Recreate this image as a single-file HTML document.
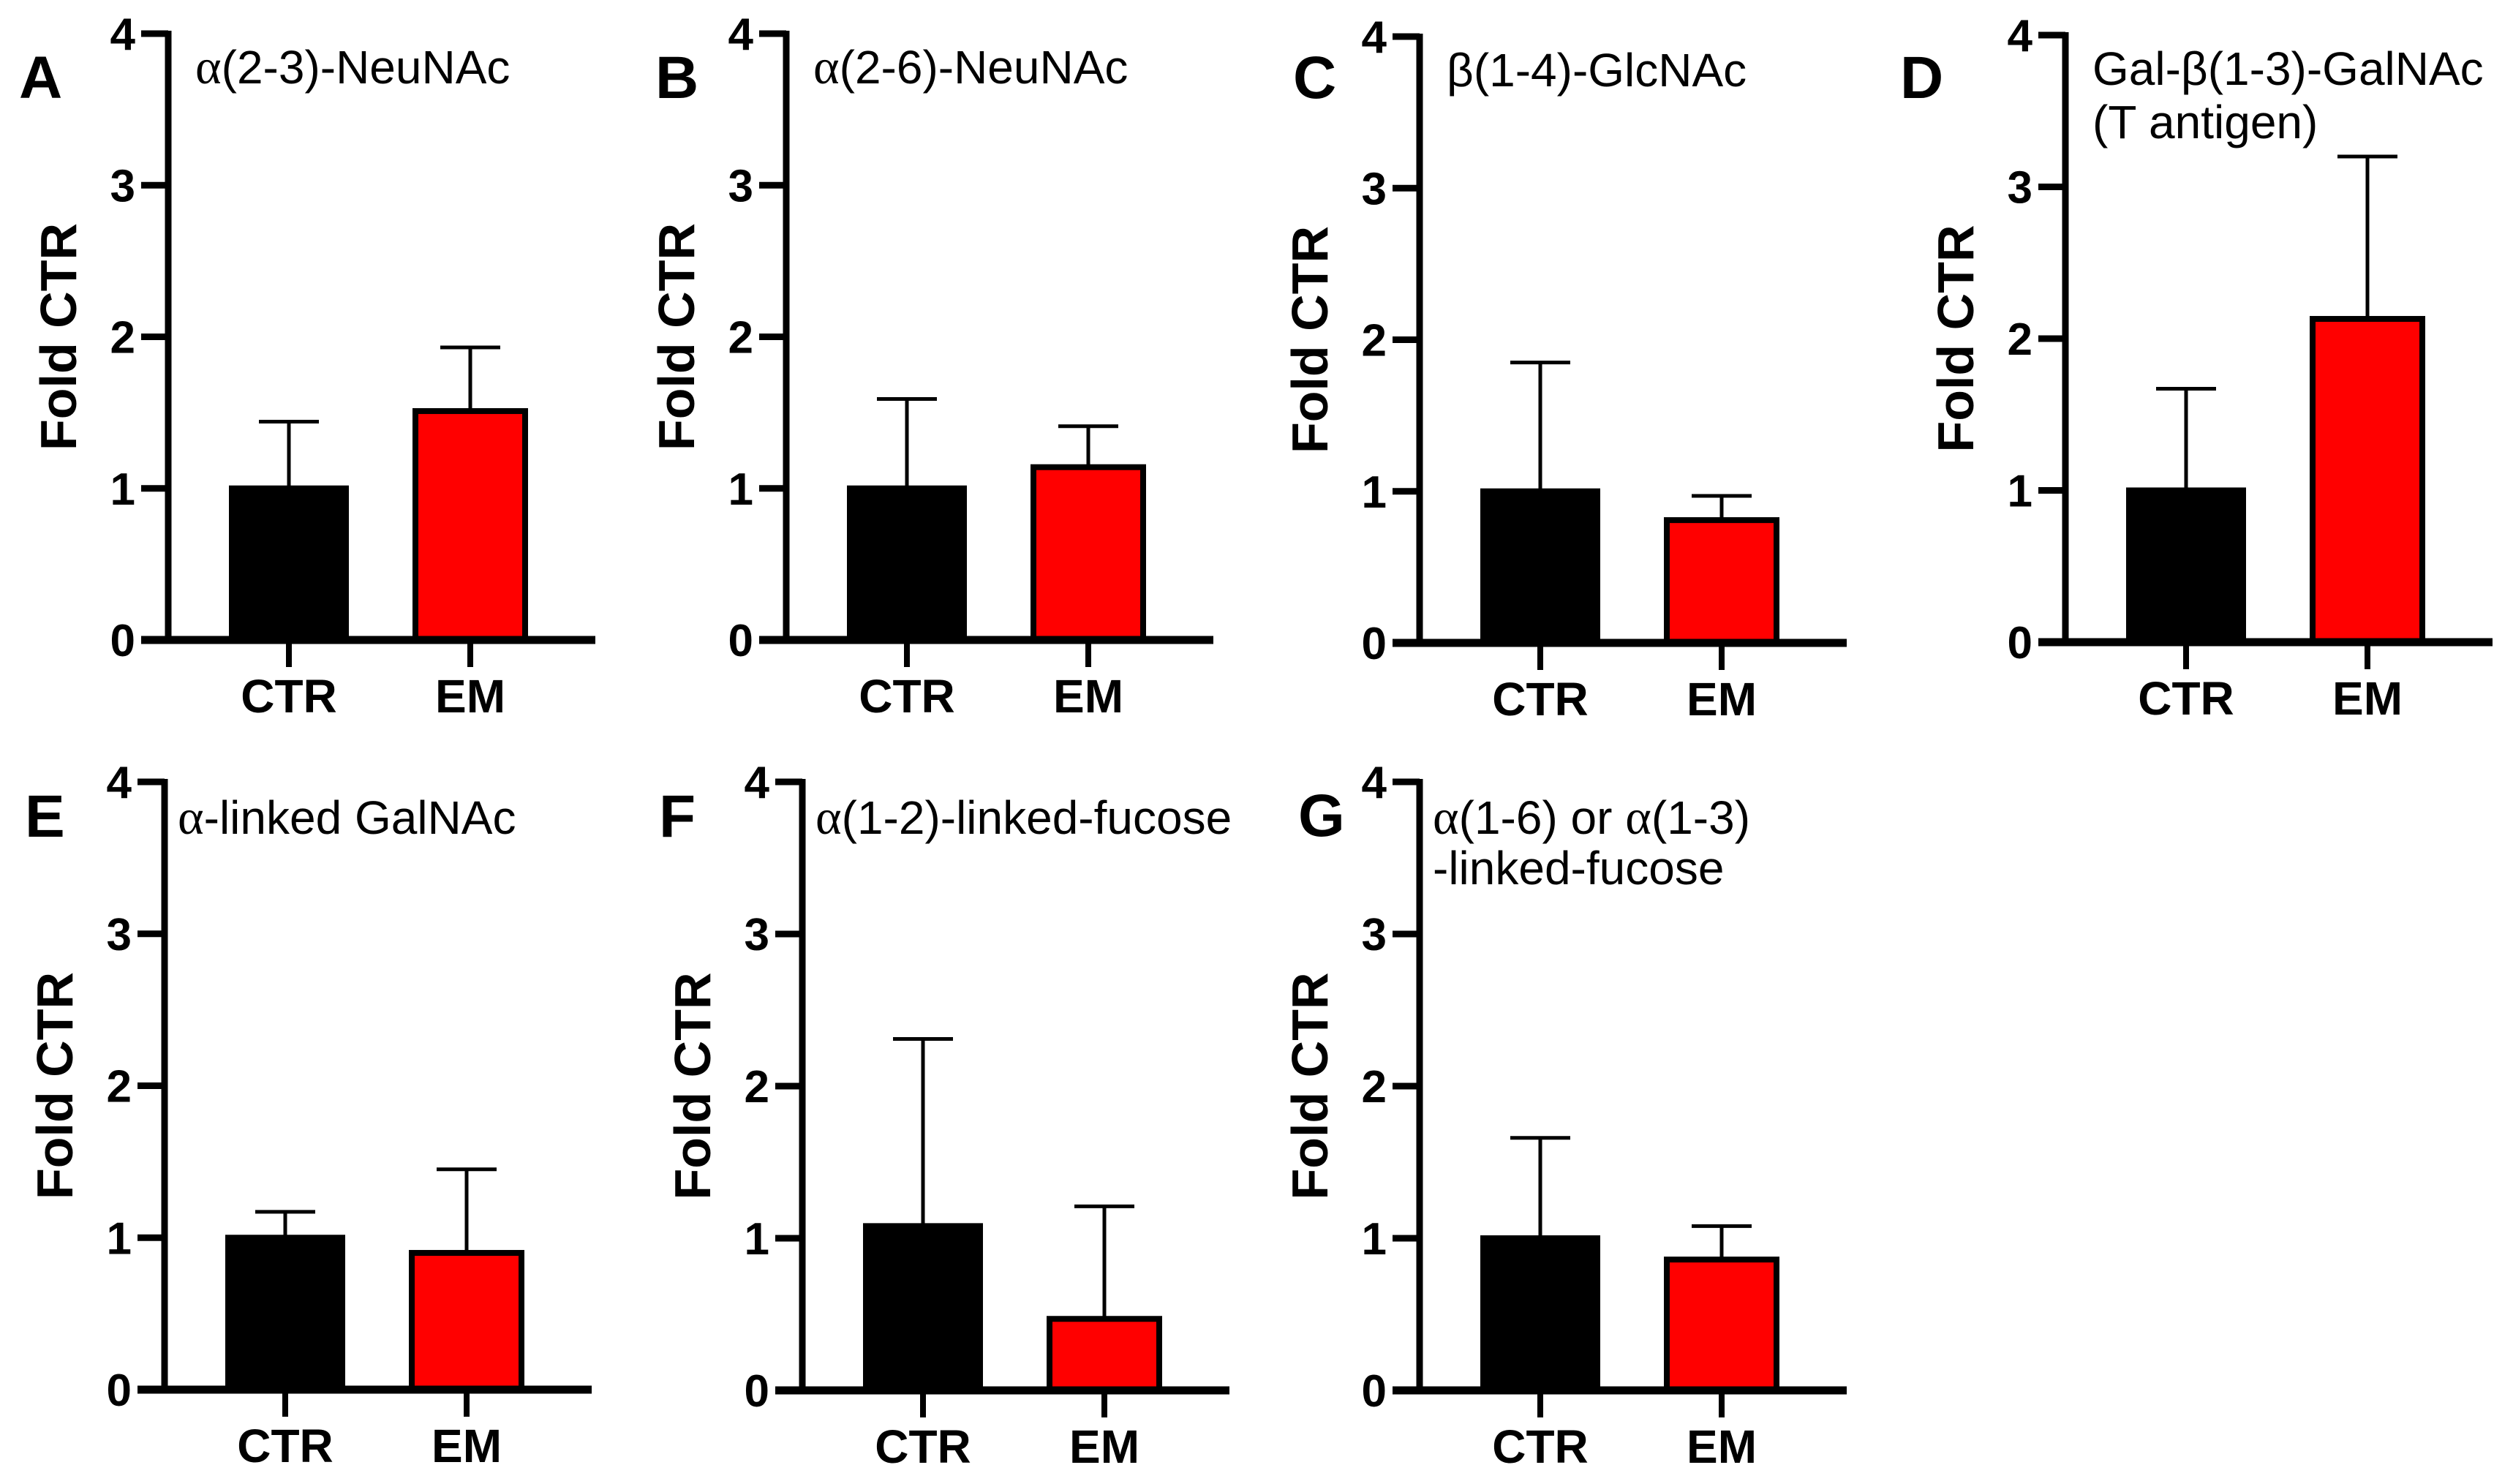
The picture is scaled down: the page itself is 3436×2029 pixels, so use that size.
<!DOCTYPE html>
<html><head><meta charset="utf-8"><style>
html,body{margin:0;padding:0;background:#fff;}
svg{display:block;}
text{font-family:"Liberation Sans",Arial,sans-serif;}
</style></head>
<body>
<svg id="chart" width="3436" height="2029" viewBox="0 0 3436 2029" xmlns="http://www.w3.org/2000/svg"></svg>
<script>
const panelLetters = ["A","B","C","D","E","F","G"];
const titlesLine1 = ["(2-3)-NeuNAc","(2-6)-NeuNAc","β(1-4)-GlcNAc","Gal-β(1-3)-GalNAc","-linked GalNAc","(1-2)-linked-fucose","(1-6) or "];
const categories = ["CTR","EM"];
const ctrValues = [1.0, 1.0, 1.0, 1.0, 1.0, 1.08, 1.0];
const ctrErrors = [1.44, 1.59, 1.85, 1.67, 1.17, 2.31, 1.66];
const emValues = [1.51, 1.14, 0.81, 2.13, 0.90, 0.47, 0.86];
const emErrors = [1.93, 1.41, 0.97, 3.20, 1.45, 1.21, 1.08];
const yTicks = [0, 1, 2, 3, 4];

// layout (pixel geometry of each panel)
const layout = [
  {ax:230, y0:875, y4:46, lx:26, lb:134},
  {ax:1075, y0:875, y4:46, lx:896, lb:134},
  {ax:1941, y0:879, y4:50, lx:1768, lb:134},
  {ax:2824, y0:878, y4:48, lx:2598, lb:134},
  {ax:225, y0:1900, y4:1069, lx:34, lb:1144},
  {ax:1097, y0:1901, y4:1069, lx:901, lb:1144},
  {ax:1941, y0:1901, y4:1069, lx:1775, lb:1143}
];
const NS = "http://www.w3.org/2000/svg";
const svg = document.getElementById("chart");
function mk(tag, attrs, parent){
  const e = document.createElementNS(NS, tag);
  for (const k in attrs) e.setAttribute(k, attrs[k]);
  (parent||svg).appendChild(e);
  return e;
}
panelLetters.forEach((L, i) => {
  const p = layout[i];
  const g = mk("g", {});
  
  
  const yScale = v => p.y0 - (p.y0 - p.y4) * v / 4;
  const ax = p.ax;
  const lt = mk("text", {x:p.lx, y:p.lb, "font-size":82, "font-weight":"bold"}, g);
  lt.textContent = L;
  
  
  const top = i < 4;
  const tx = ax + (top ? 37 : 18);
  const tb = top ? p.y4 + 68 : p.y4 + 71;
  const tt = mk("text", {x:tx, y:tb, "font-size":64}, g);
  
  
  if (i === 2 || i === 3) {
    tt.textContent = titlesLine1[i];
  } else if (i === 6) {
    tt.innerHTML = '<tspan font-family="Liberation Serif, serif" font-size="68">α</tspan>(1-6) or <tspan font-family="Liberation Serif, serif" font-size="68">α</tspan>(1-3)';
    const t2 = mk("text", {x:tx, y:tb + 69, "font-size":64}, g);
    t2.textContent = "-linked-fucose";
    
    
  } else {
    tt.innerHTML = '<tspan font-family="Liberation Serif, serif" font-size="68">α</tspan>' + titlesLine1[i];
  }
  if (i === 3) {
    const t2 = mk("text", {x:tx, y:tb + 73, "font-size":64}, g);
    t2.textContent = "(T antigen)";
    
    
  }
  const yc = (p.y0 + p.y4) / 2;
  const yt = mk("text", {x:ax - 126, y:yc, "font-size":70, "font-weight":"bold", "text-anchor":"middle", transform:`rotate(-90 ${ax-126} ${yc})`}, g);
  yt.textContent = "Fold CTR";
  
  
  yTicks.forEach(t => {
    const y = yScale(t);
    const tl = mk("line", {x1:ax - 37, x2:ax, y1:y, y2:y, stroke:"#000", "stroke-width":9}, g);
    
    
    const lab = mk("text", {x:ax - 45, y:y + 22, "font-size":62, "font-weight":"bold", "text-anchor":"end"}, g);
    lab.textContent = String(t);
    
    
  });
  const vals = [ctrValues[i], emValues[i]];
  const errs = [ctrErrors[i], emErrors[i]];
  const centers = [ax + 165, ax + 413];
  vals.forEach((v, j) => {
    const yv = yScale(v);
    const cx = centers[j];
    const el = mk("line", {x1:cx, x2:cx, y1:yScale(errs[j]), y2:yv, stroke:"#000", "stroke-width":5}, g);
    
    
    const cap = mk("line", {x1:cx - 41, x2:cx + 41, y1:yScale(errs[j]), y2:yScale(errs[j]), stroke:"#000", "stroke-width":5}, g);
    
    
    let r;
    if (j === 0) {
      r = mk("rect", {x:cx - 82, y:yv - 4, width:164, height:p.y0 - yv + 4, fill:"#000"}, g);
    } else {
      r = mk("rect", {x:cx - 75, y:yv, width:150, height:p.y0 - yv, fill:"#ff0000", stroke:"#000", "stroke-width":8}, g);
    }
    
    
    const xt = mk("line", {x1:cx, x2:cx, y1:p.y0, y2:p.y0 + 37, stroke:"#000", "stroke-width":8}, g);
    
    
    const cl = mk("text", {x:cx, y:p.y0 + 99, "font-size":64, "font-weight":"bold", "text-anchor":"middle"}, g);
    cl.textContent = categories[j];
    
    
  });
  const ya = mk("line", {x1:ax, x2:ax, y1:p.y4 - 4, y2:p.y0, stroke:"#000", "stroke-width":9}, g);
  
  
  const xa = mk("line", {x1:ax - 37, x2:ax + 584, y1:p.y0, y2:p.y0, stroke:"#000", "stroke-width":11}, g);
  
  
});
</script>
</body></html>
